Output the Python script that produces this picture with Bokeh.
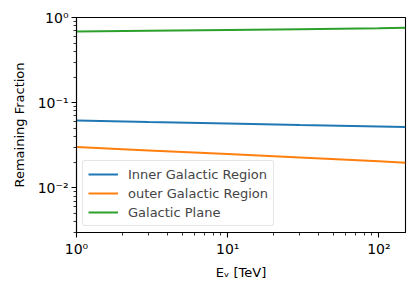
from bokeh.plotting import figure
from bokeh.models import Legend, LegendItem, Range1d
from bokeh.embed import file_html
from bokeh.resources import INLINE

# Data (log-log)
energy_tev = [1, 3, 10, 30, 100, 150]
inner_galactic = [0.062, 0.0595, 0.057, 0.0547, 0.0525, 0.0518]
outer_galactic = [0.0302, 0.0275, 0.0250, 0.0227, 0.0205, 0.0198]
galactic_plane = [0.683, 0.697, 0.712, 0.728, 0.748, 0.758]

series_names = ["Inner Galactic Region", "outer Galactic Region", "Galactic Plane"]
series_colors = ["#1f77b4", "#ff7f0e", "#2ca02c"]

x_tick_labels = {1: "10\u2070", 10: "10\u00b9", 100: "10\u00b2"}
y_tick_labels = {0.01: "10\u207b\u00b2", 0.1: "10\u207b\u00b9", 1: "10\u2070"}

FONT = "DejaVu Sans"

p = figure(
    x_axis_type="log", y_axis_type="log",
    frame_width=329, frame_height=215,
    min_border_left=76, min_border_right=8, min_border_top=17, min_border_bottom=56,
    x_range=Range1d(1, 150), y_range=Range1d(0.003, 1),
    output_backend="svg", toolbar_location=None,
)
p.background_fill_color = "white"
p.border_fill_color = "white"
p.outline_line_color = "black"
p.outline_line_width = 1.1
p.xgrid.visible = False
p.ygrid.visible = False

renderers = []
for ys, c in zip([inner_galactic, outer_galactic, galactic_plane], series_colors):
    r = p.line(energy_tev, ys, line_color=c, line_width=2)
    renderers.append(r)

for ax in (p.xaxis[0], p.yaxis[0]):
    ax.axis_line_color = "black"
    ax.axis_line_width = 1.1
    ax.major_tick_out = 5
    ax.major_tick_in = 0
    ax.minor_tick_out = 3
    ax.minor_tick_in = 0
    ax.major_tick_line_width = 1.1
    ax.minor_tick_line_width = 0.8
    ax.major_label_text_font = FONT
    ax.major_label_text_font_size = "14px"
    ax.major_label_text_color = "black"
    ax.axis_label_text_font = FONT
    ax.axis_label_text_font_size = "13px"
    ax.axis_label_text_font_style = "normal"
    ax.axis_label_text_color = "black"

p.xaxis.major_label_overrides = x_tick_labels
p.yaxis.major_label_overrides = y_tick_labels
p.xaxis.major_label_standoff = 3
p.yaxis.major_label_standoff = 3
p.xaxis.axis_label = "E\u1d65 [TeV]"
p.yaxis.axis_label = "Remaining Fraction"
p.xaxis.axis_label_standoff = 5
p.yaxis.axis_label_standoff = 8

legend = Legend(
    items=[LegendItem(label=n, renderers=[r]) for n, r in zip(series_names, renderers)],
    location="bottom_left",
    margin=6,
    padding=5,
    spacing=3,
    label_height=16,
    glyph_height=16,
    glyph_width=30,
    label_standoff=10,
    label_text_font=FONT,
    label_text_font_size="13px",
    border_line_color="#cccccc",
    border_line_width=1,
    background_fill_color="white",
    background_fill_alpha=0.8,
)
if "border_radius" in Legend.properties():
    legend.border_radius = 3
p.add_layout(legend, "center")

open("out.html", "w").write(file_html(p, INLINE))
